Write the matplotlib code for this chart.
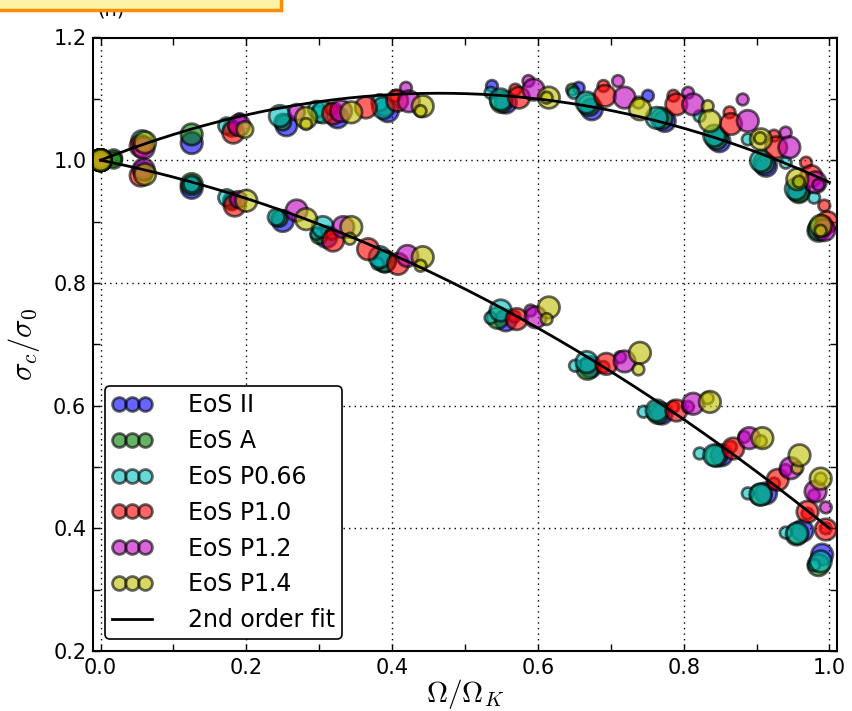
import numpy as np
import matplotlib
matplotlib.use('Agg')
import matplotlib.pyplot as plt
from matplotlib.ticker import MultipleLocator
from matplotlib.patches import Rectangle

plt.rcParams['mathtext.fontset'] = 'cm'
plt.rcParams['font.family'] = ['DejaVu Sans']

# size class -> marker area (pt^2)
SIZE = {0: 70, 1: 140, 2: 240}

# EoS II
ii_x = [0.0, 0.125, 0.255, 0.325, 0.394, 0.537, 0.556, 0.656, 0.674, 0.751, 0.774, 0.849, 0.913, 0.958, 0.990,
        0.0, 0.125, 0.18, 0.25, 0.31, 0.39, 0.556, 0.672, 0.770, 0.852, 0.913, 0.963, 0.990]
ii_y = [1.0, 1.028, 1.057, 1.070, 1.080, 1.121, 1.094, 1.118, 1.083, 1.105, 1.064, 1.031, 0.991, 0.950, 0.892,
        1.0, 0.955, 0.935, 0.901, 0.875, 0.835, 0.739, 0.663, 0.587, 0.519, 0.457, 0.396, 0.357]
ii_m = [2, 2, 2, 2, 2, 0, 2, 0, 2, 0, 2, 2, 2, 2, 2,
        2, 2, 1, 2, 2, 2, 2, 2, 2, 2, 2, 2, 2]

# EoS A
a_x = [0.0, 0.018, 0.06, 0.125, 0.18, 0.25, 0.30, 0.39, 0.55, 0.647, 0.67, 0.77, 0.845, 0.91, 0.958, 0.985,
       0.0, 0.018, 0.06, 0.125, 0.18, 0.245, 0.30, 0.39, 0.545, 0.668, 0.765, 0.845, 0.905, 0.955, 0.985]
a_y = [1.0, 1.004, 1.025, 1.042, 1.052, 1.062, 1.075, 1.085, 1.095, 1.115, 1.090, 1.068, 1.035, 0.995, 0.948, 0.885,
       1.0, 1.0, 0.98, 0.961, 0.932, 0.905, 0.877, 0.835, 0.743, 0.660, 0.588, 0.518, 0.455, 0.390, 0.340]
a_m = [2, 1, 1, 2, 1, 1, 1, 1, 2, 0, 2, 2, 2, 2, 2, 2,
       2, 1, 1, 2, 1, 1, 1, 2, 2, 2, 2, 2, 2, 2, 2]

# EoS P0.66
p066_x = [0.0, 0.057, 0.173, 0.246, 0.296, 0.305, 0.383, 0.388, 0.535, 0.549, 0.649, 0.667, 0.763, 0.822, 0.842,
          0.888, 0.906, 0.940, 0.954, 0.979, 0.986,
          0.0, 0.057, 0.125, 0.173, 0.241, 0.296, 0.305, 0.380, 0.383, 0.535, 0.549, 0.651, 0.667, 0.745, 0.763,
          0.822, 0.842, 0.888, 0.906, 0.940, 0.956, 0.979, 0.988]
p066_y = [1.0, 1.031, 1.056, 1.072, 1.083, 1.078, 1.094, 1.085, 1.110, 1.099, 1.110, 1.094, 1.069, 1.072, 1.040,
          1.034, 0.999, 0.996, 0.953, 0.939, 0.888,
          1.0, 0.985, 0.961, 0.939, 0.907, 0.880, 0.891, 0.831, 0.842, 0.743, 0.755, 0.665, 0.671, 0.590, 0.592,
          0.522, 0.519, 0.457, 0.455, 0.393, 0.392, 0.340, 0.346]
p066_m = [2, 2, 1, 2, 1, 2, 1, 2, 0, 2, 0, 2, 2, 0, 2, 0, 2, 0, 2, 0, 2,
          2, 1, 1, 1, 1, 0, 2, 0, 2, 0, 2, 0, 2, 0, 2, 0, 2, 0, 2, 0, 2, 0, 2]

# EoS P1.0
p10_x = [0.0, 0.055, 0.184, 0.182, 0.317, 0.319, 0.364, 0.405, 0.407, 0.569, 0.574, 0.690, 0.692, 0.786, 0.790,
         0.863, 0.865, 0.924, 0.927, 0.968, 0.975, 0.993, 0.997,
         0.0, 0.055, 0.184, 0.317, 0.319, 0.367, 0.408, 0.568, 0.571, 0.690, 0.694, 0.786, 0.790, 0.865, 0.868,
         0.924, 0.929, 0.970, 0.970, 0.995, 0.995]
p10_y = [1.0, 1.023, 1.053, 1.045, 1.083, 1.076, 1.086, 1.105, 1.097, 1.115, 1.102, 1.121, 1.105, 1.105, 1.091,
         1.078, 1.059, 1.040, 1.021, 0.996, 0.974, 0.926, 0.899,
         1.0, 0.975, 0.926, 0.880, 0.869, 0.855, 0.831, 0.745, 0.741, 0.663, 0.668, 0.598, 0.592, 0.533, 0.530,
         0.473, 0.479, 0.424, 0.427, 0.400, 0.398]
p10_m = [1, 2, 0, 2, 0, 2, 2, 0, 2, 0, 2, 0, 2, 0, 2, 0, 2, 0, 2, 0, 2, 0, 2,
         1, 2, 2, 0, 2, 2, 2, 0, 2, 0, 2, 0, 2, 0, 2, 0, 2, 0, 2, 0, 2]

# EoS P1.2
p12_x = [0.0, 0.059, 0.191, 0.19, 0.269, 0.330, 0.419, 0.423, 0.587, 0.594, 0.710, 0.719, 0.806, 0.813, 0.881,
         0.888, 0.940, 0.945, 0.981, 0.985, 0.993,
         0.0, 0.059, 0.189, 0.269, 0.333, 0.421, 0.590, 0.597, 0.713, 0.719, 0.806, 0.813, 0.883, 0.890, 0.940,
         0.947, 0.979, 0.981, 0.995]
p12_y = [1.0, 1.020, 1.067, 1.057, 1.078, 1.080, 1.118, 1.096, 1.129, 1.115, 1.129, 1.102, 1.110, 1.091, 1.099,
         1.064, 1.045, 1.021, 0.964, 0.960, 0.886,
         1.0, 0.985, 0.936, 0.918, 0.891, 0.844, 0.755, 0.744, 0.679, 0.672, 0.598, 0.603, 0.549, 0.547, 0.495,
         0.498, 0.454, 0.460, 0.434]
p12_m = [1, 2, 0, 2, 1, 2, 0, 2, 0, 2, 0, 2, 0, 2, 0, 2, 0, 2, 2, 0, 2,
         1, 2, 1, 2, 2, 2, 0, 2, 0, 2, 0, 2, 0, 2, 0, 2, 0, 2, 0]

# EoS P1.4
p14_x = [0.0, 0.061, 0.198, 0.282, 0.282, 0.344, 0.442, 0.439, 0.615, 0.612, 0.738, 0.740, 0.833, 0.836, 0.906,
         0.905, 0.956, 0.958, 0.988, 0.988,
         0.0, 0.061, 0.200, 0.282, 0.344, 0.342, 0.442, 0.439, 0.615, 0.612, 0.740, 0.738, 0.833, 0.836, 0.906,
         0.908, 0.956, 0.959, 0.988, 0.988]
p14_y = [1.0, 1.029, 1.050, 1.069, 1.059, 1.078, 1.088, 1.080, 1.102, 1.102, 1.094, 1.083, 1.088, 1.064, 1.034,
         1.036, 0.969, 0.965, 0.893, 0.885,
         1.0, 0.977, 0.934, 0.904, 0.891, 0.872, 0.842, 0.828, 0.760, 0.741, 0.686, 0.659, 0.612, 0.606, 0.542,
         0.547, 0.498, 0.519, 0.481, 0.481]
p14_m = [2, 2, 1, 2, 0, 2, 2, 0, 2, 0, 0, 2, 0, 2, 2, 0, 2, 0, 2, 0,
         2, 2, 2, 2, 2, 0, 2, 0, 2, 0, 2, 0, 0, 2, 0, 2, 0, 2, 0, 2]

eos_labels = ['EoS II', 'EoS A', 'EoS P0.66', 'EoS P1.0', 'EoS P1.2', 'EoS P1.4']
eos_colors = ['b', 'g', 'c', 'r', 'm', 'y']
eos_data = [(ii_x, ii_y, ii_m), (a_x, a_y, a_m), (p066_x, p066_y, p066_m),
            (p10_x, p10_y, p10_m), (p12_x, p12_y, p12_m), (p14_x, p14_y, p14_m)]

# 2nd order fit coefficients (c0, c1, c2)
fit_upper = [1.0, 0.470, -0.506]
fit_lower = [1.0, -0.240, -0.360]

fig = plt.figure(figsize=(8.52, 7.11), dpi=100)
ax = fig.add_axes([93.3 / 852, 1 - 651 / 711, (836.7 - 93.3) / 852, (651 - 37.5) / 711])

for (x, y, m), lab, col in zip(eos_data, eos_labels, eos_colors):
    ax.scatter(x, y, s=[SIZE[k] for k in m], c=col, alpha=0.6,
               edgecolors='k', linewidths=2, label=lab, zorder=2)

xf = np.linspace(0, 1, 200)
ax.plot(xf, np.polyval(fit_upper[::-1], xf), 'k-', lw=2, zorder=3, label='2nd order fit')
ax.plot(xf, np.polyval(fit_lower[::-1], xf), 'k-', lw=2, zorder=3)

ax.set_xlim(-0.01, 1.01)
ax.set_ylim(0.2, 1.2)
ax.xaxis.set_major_locator(MultipleLocator(0.2))
ax.xaxis.set_minor_locator(MultipleLocator(0.1))
ax.yaxis.set_major_locator(MultipleLocator(0.2))
ax.yaxis.set_minor_locator(MultipleLocator(0.1))
ax.tick_params(which='both', direction='in', top=True, right=True, length=5, width=1, labelsize=15, pad=5)
ax.grid(True, which='major', color='k', linestyle=(0, (1, 3)), linewidth=1)
ax.set_axisbelow(True)
for sp in ax.spines.values():
    sp.set_linewidth(1.5)

ax.set_xlabel(r'$\Omega/\Omega_K$', fontsize=21, labelpad=-1)
ax.set_ylabel(r'$\sigma_c/\sigma_0$', fontsize=22, labelpad=8)

leg = ax.legend(loc='lower left', scatterpoints=3, scatteryoffsets=[0.5], fontsize=17, fancybox=True,
                framealpha=1, edgecolor='k', borderaxespad=0.5, handlelength=1.7, handletextpad=1.5,
                labelspacing=0.5, borderpad=0.3)
leg.get_frame().set_linewidth(1.2)
for h in leg.legend_handles:
    if hasattr(h, 'set_sizes'):
        h.set_sizes([100])

# cropped panel label / box at the very top
fig.text(111 / 852, 1 - 15 / 711, '(n)', fontsize=14, ha='center', va='baseline')
fig.add_artist(Rectangle((-0.01, 1 - 10 / 711), 290 / 852, 0.05, transform=fig.transFigure,
                         facecolor='#fdf3a6', edgecolor='#ff8c00', linewidth=2.5, zorder=5))

fig.savefig('out.png', dpi=100)
